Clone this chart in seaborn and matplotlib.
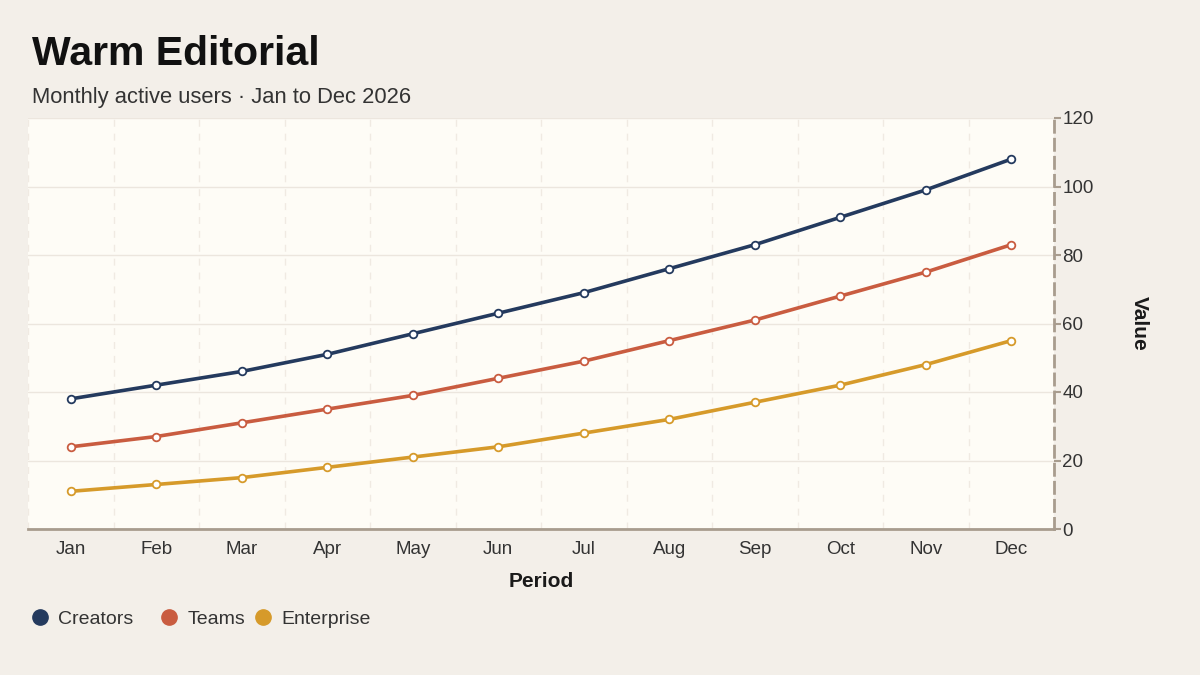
import numpy as np
import pandas as pd
import matplotlib.pyplot as plt
import seaborn as sns
from matplotlib.lines import Line2D

# data
months = ["Jan", "Feb", "Mar", "Apr", "May", "Jun", "Jul", "Aug", "Sep", "Oct", "Nov", "Dec"]
creators = [38, 42, 46, 51, 57, 63, 69, 76, 83, 91, 99, 108]
teams = [24, 27, 31, 35, 39, 44, 49, 55, 61, 68, 75, 83]
enterprise = [11, 13, 15, 18, 21, 24, 28, 32, 37, 42, 48, 55]
series_names = ["Creators", "Teams", "Enterprise"]
colors = ["#243a5e", "#c95c40", "#d69a2a"]

df = pd.DataFrame({
    "idx": list(range(12)) * 3,
    "month": months * 3,
    "value": creators + teams + enterprise,
    "series": sum([[s] * 12 for s in series_names], []),
})

sns.set_theme(style="white")
plt.rcParams["font.family"] = ["Liberation Sans", "DejaVu Sans"]

bg = "#f3efe9"
axis_col = "#a89c8e"
fig = plt.figure(figsize=(12, 6.75), dpi=100, facecolor=bg)
ax = fig.add_axes([28 / 1200, 1 - 529 / 675, (1054 - 28) / 1200, (529 - 118) / 675])
ax.set_facecolor("#fefcf6")

sns.lineplot(data=df, x="idx", y="value", hue="series", palette=colors,
             hue_order=series_names, linewidth=2.6, marker="o", markersize=5.5,
             markerfacecolor="white", markeredgewidth=1.3, legend=False, ax=ax,
             zorder=3)
for line, c in zip(ax.lines, colors):
    line.set_markeredgecolor(c)

ax.set_xlim(-0.5, 11.5)
ax.set_ylim(0, 120)

# band-style x axis: labels at centres, ticks and grid at band edges
ax.set_xticks(range(12))
ax.set_xticklabels(months)
ax.set_xticks(np.arange(-0.5, 12, 1), minor=True)
ax.tick_params(axis="x", which="major", length=0, labelsize=13.5, colors="#333333", pad=9)
ax.tick_params(axis="x", which="minor", length=6, width=1.5, color=axis_col, direction="out")
ax.grid(axis="x", which="minor", color="#f0eae2", linestyle=(0, (5, 5)), linewidth=1)

ax.yaxis.tick_right()
ax.set_yticks(range(0, 121, 20))
ax.tick_params(axis="y", length=5, width=1.5, color=axis_col, labelsize=13.5, pad=1)
ax.tick_params(axis="y", colors=axis_col, labelcolor="#333333")
ax.grid(axis="y", which="major", color="#ece6de", linewidth=1)

for s in ["top", "left"]:
    ax.spines[s].set_visible(False)
ax.spines["bottom"].set_color(axis_col)
ax.spines["bottom"].set_linewidth(2)
ax.spines["right"].set_color(axis_col)
ax.spines["right"].set_linewidth(2)
ax.spines["right"].set_linestyle((0, (4, 2.5)))

ax.set_xlabel("Period", fontsize=15, fontweight="bold", color="#1a1a1a", labelpad=10)
ax.yaxis.set_label_position("right")
ax.set_ylabel("Value", fontsize=15, fontweight="bold", color="#1a1a1a",
              rotation=270, labelpad=26, va="bottom")

fig.text(32 / 1200, 1 - 54 / 675, "Warm Editorial", fontsize=29.5, fontweight="bold",
         color="#111111", va="center", ha="left")
fig.text(32 / 1200, 1 - 97 / 675, "Monthly active users \u00b7 Jan to Dec 2026",
         fontsize=15.8, color="#333333", va="center", ha="left")

# legend entries placed one by one, as in the reference
legend_x = [40, 169, 263]
for name, c, lx in zip(series_names, colors, legend_x):
    h = Line2D([], [], linestyle="none", marker="o", markersize=11,
               markerfacecolor=c, markeredgecolor=c)
    fig.legend([h], [name], loc="center left",
               bbox_to_anchor=((lx - 10) / 1200, 1 - 619 / 675),
               frameon=False, fontsize=14, handletextpad=0.45, handlelength=1.0,
               borderpad=0, borderaxespad=0, labelcolor="#333333")

fig.savefig("out.png", dpi=100, facecolor=bg)
